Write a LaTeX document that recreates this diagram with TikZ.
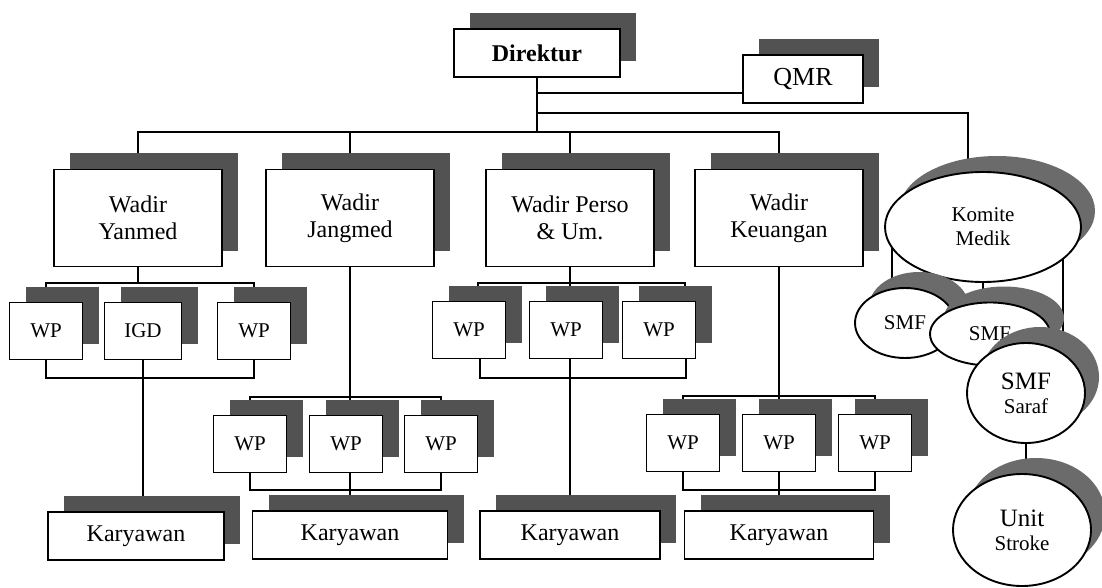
\documentclass[tikz,border=0pt]{standalone}
\usepackage{fontspec}
\setmainfont{Liberation Serif}
\usetikzlibrary{shapes.geometric, shadows}
\pgfdeclarelayer{bg}
\pgfsetlayers{bg,main}
\newcommand\txtL{\fontsize{24}{27}\selectfont}
\newcommand\txtM{\fontsize{21}{24}\selectfont}
\newcommand\txtXL{\fontsize{26}{29}\selectfont}

\begin{document}
\begin{tikzpicture}[
    x=1pt, y=-1pt,
    plain/.style={draw, line width=1.9pt, fill=white, inner sep=0pt, align=center},
    box/.style={plain, drop shadow={shadow xshift=16pt, shadow yshift=16pt, fill=black!68, opacity=1}},
    oval/.style={plain, ellipse, drop shadow={shadow xshift=14pt, shadow yshift=16pt, fill=black!58, opacity=1}},
    wadir/.style={box, minimum width=168pt, minimum height=97pt, font=\txtL},
    wp/.style={box, minimum width=73pt, minimum height=57pt, font=\txtM},
    staff/.style={box, minimum height=48pt, font=\txtL},
    link/.style={line width=1.8pt}
]
    \useasboundingbox (0,0) rectangle (1102,588);

    \node[box, minimum width=166pt, minimum height=48pt, font=\txtL\bfseries] (dir) at (537,53) {Direktur};
    \node[box, minimum width=120pt, minimum height=48pt, font=\txtXL] (qmr) at (803,79) {QMR};

    \node[wadir] (wy) at (138,218) {Wadir\\Yanmed};
    \node[wadir] (wj) at (350,218) {Wadir\\Jangmed};
    \node[wadir] (wpu) at (570,218) {Wadir Perso\\\& Um.};
    \node[wadir] (wk) at (779,218) {Wadir\\Keuangan};

    \node[wp] (ywp1) at (46,331) {WP};
    \node[wp, minimum width=77pt] (igd) at (143,331) {IGD};
    \node[wp] (ywp3) at (254,331) {WP};

    \node[wp] (pwp1) at (469,330) {WP};
    \node[wp] (pwp2) at (566,330) {WP};
    \node[wp] (pwp3) at (659,330) {WP};

    \node[wp] (jwp1) at (250,444) {WP};
    \node[wp] (jwp2) at (346,444) {WP};
    \node[wp] (jwp3) at (441,444) {WP};

    \node[wp] (kwp1) at (683,443) {WP};
    \node[wp] (kwp2) at (779,443) {WP};
    \node[wp] (kwp3) at (875,443) {WP};

    \node[staff, minimum width=176pt] (kar1) at (136,536) {Karyawan};
    \node[staff, minimum width=195pt] (kar2) at (350,535) {Karyawan};
    \node[staff, minimum width=180pt] (kar3) at (570,535) {Karyawan};
    \node[staff, minimum width=189pt] (kar4) at (779,535) {Karyawan};

    \node[oval, minimum width=196pt, minimum height=110pt, font=\txtM] (km) at (983,227) {Komite\\Medik};
    \node[oval, minimum width=100pt, minimum height=70pt, font=\txtM] (smf1) at (905,323) {SMF};
    \node[oval, minimum width=120pt, minimum height=63pt, font=\txtM] (smf2) at (990,334) {SMF};
    \node[oval, minimum width=118pt, minimum height=100pt, font=\txtM] (smfs) at (1026,393) {{\fontsize{25}{28}\selectfont SMF}\\Saraf};
    \node[oval, minimum width=138pt, minimum height=112pt, font=\txtM] (us) at (1022,530) {{\fontsize{25}{28}\selectfont Unit}\\Stroke};

    \begin{pgfonlayer}{bg}
        \coordinate (topbus) at (537,132);
        \coordinate (kmbend) at (968,113);
        \draw[link] (dir.center) -- (topbus);
        \draw[link] (wy.center) |- (topbus) -| (wk.center);
        \draw[link] (wj.center) -- (wj.center |- topbus);
        \draw[link] (wpu.center) -- (wpu.center |- topbus);
        \draw[link] ([yshift=-14pt]qmr.center) -| (dir.center);
        \draw[link] (dir.center |- kmbend) -- (kmbend) -- (kmbend |- km.center);

        \coordinate (ybus) at (138,283);
        \coordinate (ybot) at (138,378);
        \draw[link] (wy.center) -- (ybus);
        \draw[link] (ywp1.center) |- (ybus) -| (ywp3.center);
        \draw[link] (ywp1.center) |- (ybot) -| (ywp3.center);
        \draw[link] (igd.center) -- (igd.center |- kar1.center);

        \coordinate (pbus) at (570,283);
        \coordinate (pbot) at (570,378);
        \draw[link] (wpu.center) -- (wpu.center |- kar3.center);
        \draw[link] ([xshift=9pt]pwp1.center) |- (pbus) -| ([xshift=26pt]pwp3.center);
        \draw[link] ([xshift=11pt]pwp1.center) |- (pbot) -| ([xshift=27pt]pwp3.center);

        \coordinate (jbus) at (350,397);
        \coordinate (jbot) at (350,490);
        \draw[link] (wj.center) -- (wj.center |- kar2.center);
        \draw[link] (jwp1.center) |- (jbus) -| (jwp3.center);
        \draw[link] (jwp1.center) |- (jbot) -| (jwp3.center);

        \coordinate (kbus) at (779,396);
        \coordinate (kbot) at (779,490);
        \draw[link] (wk.center) -- (wk.center |- kar4.center);
        \draw[link] (kwp1.center) |- (kbus) -| (kwp3.center);
        \draw[link] (kwp1.center) |- (kbot) -| (kwp3.center);

        \draw[link] ([xshift=-13pt]smf1.center) -- ([xshift=-13pt]smf1.center |- km.center);
        \draw[link] (km.center) -- (km.center |- smf2.center);
        \draw[link] ([xshift=37pt]smfs.center) -- ([xshift=37pt]smfs.center |- km.center);
        \draw[link] (smfs.center) -- (smfs.center |- us.center);
    \end{pgfonlayer}
\end{tikzpicture}
\end{document}
